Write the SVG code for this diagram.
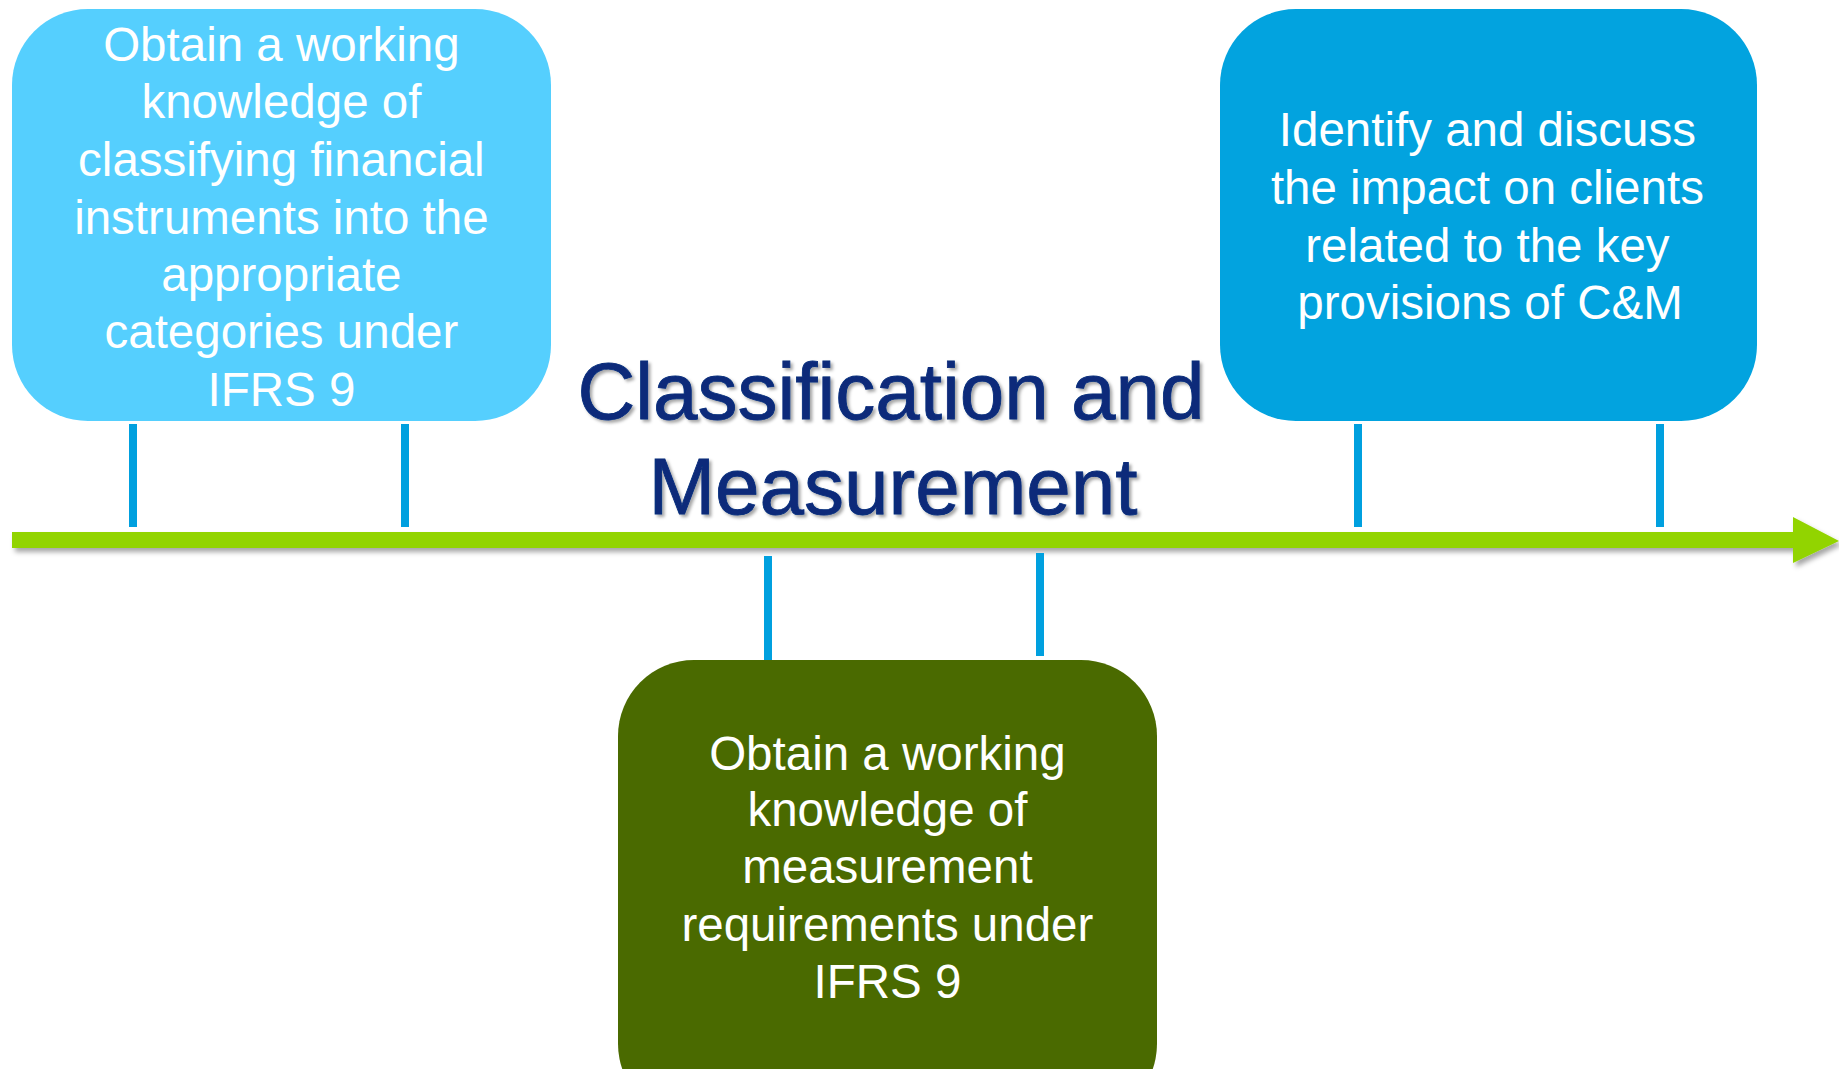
<svg xmlns="http://www.w3.org/2000/svg" width="1839" height="1069" viewBox="0 0 1839 1069">
  <defs>
    <style>
      .box-text { font-family: "Liberation Sans", Arial, sans-serif; font-size: 47.5px; fill: #ffffff; text-anchor: middle; }
      .title { font-family: "Liberation Sans", Arial, sans-serif; font-size: 80px; fill: #082B7A; text-anchor: middle; stroke: #082B7A; stroke-width: 0.8; }
      .tick { stroke: #00A0DF; stroke-width: 8; fill: none; }
    </style>
    <filter id="shadow" x="-5%" y="-50%" width="110%" height="200%">
      <feDropShadow dx="3" dy="4" stdDeviation="2.5" flood-color="#000000" flood-opacity="0.35"/>
    </filter>
    <filter id="tshadow" x="-5%" y="-20%" width="110%" height="140%">
      <feDropShadow dx="2.5" dy="2.5" stdDeviation="1.5" flood-color="#000000" flood-opacity="0.35"/>
    </filter>
  </defs>
  <rect width="1839" height="1069" fill="#ffffff"/>

  <g id="connectors">
    <polygon id="timeline-arrow" points="12,532 1793,532 1793,517 1839,541 1793,563 1793,548 12,548" fill="#92D400" filter="url(#shadow)"/>
    <line class="tick" x1="133" y1="424" x2="133" y2="527"/>
    <line class="tick" x1="405" y1="424" x2="405" y2="527"/>
    <line class="tick" x1="1358" y1="424" x2="1358" y2="527"/>
    <line class="tick" x1="1660" y1="424" x2="1660" y2="527"/>
    <line class="tick" x1="768" y1="556" x2="768" y2="662"/>
    <line class="tick" x1="1040" y1="553" x2="1040" y2="656"/>
  </g>

  <g id="node-classify">
    <rect x="12" y="9" width="539" height="412" rx="76" ry="76" fill="#55CFFE"/>
    <text class="box-text">
      <tspan x="288" y="61">Obtain a working</tspan>
      <tspan x="288" y="118">knowledge of</tspan>
      <tspan x="288" y="176">classifying financial</tspan>
      <tspan x="288" y="234">instruments into the</tspan>
      <tspan x="288" y="291">appropriate</tspan>
      <tspan x="288" y="348">categories under</tspan>
      <tspan x="281.5" y="406">IFRS 9</tspan>
    </text>
  </g>

  <g id="node-impact">
    <rect x="1220" y="9" width="537" height="412" rx="76" ry="76" fill="#02A3DF"/>
    <text class="box-text">
      <tspan x="1494" y="146">Identify and discuss</tspan>
      <tspan x="1494" y="204">the impact on clients</tspan>
      <tspan x="1494" y="262">related to the key</tspan>
      <tspan x="1490" y="319">provisions of C&amp;M</tspan>
    </text>
  </g>

  <g id="node-measurement">
    <rect x="618" y="660" width="539" height="460" rx="76" ry="76" fill="#4A6A00"/>
    <text class="box-text">
      <tspan x="894" y="770">Obtain a working</tspan>
      <tspan x="894" y="826">knowledge of</tspan>
      <tspan x="894" y="883">measurement</tspan>
      <tspan x="894" y="941">requirements under</tspan>
      <tspan x="887.5" y="998">IFRS 9</tspan>
    </text>
  </g>

  <g id="title" filter="url(#tshadow)">
    <text class="title">
      <tspan x="902" y="419">Classification and</tspan>
      <tspan x="893" y="514">Measurement</tspan>
    </text>
  </g>
</svg>
